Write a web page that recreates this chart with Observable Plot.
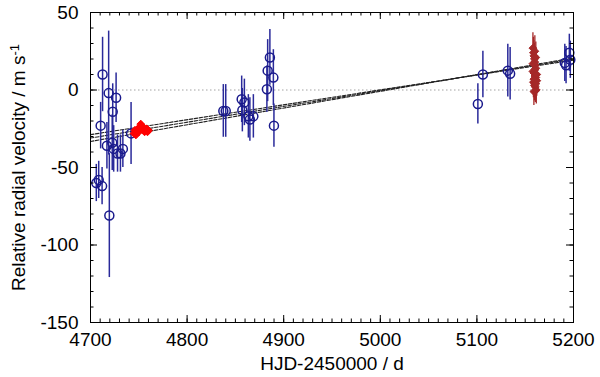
<!DOCTYPE html>
<html><head><meta charset="utf-8">
<script src="https://cdn.jsdelivr.net/npm/d3@7"></script>
<script src="https://cdn.jsdelivr.net/npm/@observablehq/plot@0.6"></script>
<style>body{margin:0;background:#fff;} svg{display:block;}</style>
</head><body><div id="chart"></div>
<script>
// Blue points (circles) : time, RV, error
const blueT = [4706, 4708.5, 4710.5, 4712, 4712.5, 4717, 4718.8, 4719.5, 4722.5, 4723, 4724, 4726.5, 4728, 4731, 4733.5, 4742,
  4837.5, 4840, 4856.5, 4857.2, 4859.3, 4863.4, 4865, 4868.6, 4882.6, 4883.4, 4885.7, 4889.3, 4889.9,
  5101, 5106.2, 5132, 5134.4, 5191, 5192.3, 5195.7, 5196.7];
const blueV = [-60, -58, -23, -62, 10, -36, -2, -81, -34, -14, -38, -5, -41, -41, -38, -28,
  -13.5, -13.5, -6, -13, -8, -17, -19, -17, 0.5, 12.5, 21, 8, -23,
  -9, 10, 12.5, 10.5, 17.5, 16, 24, 19.5];
const blueE = [12, 12, 15, 12, 24, 15, 40, 40, 18, 18, 15, 16, 12, 12, 12, 20,
  17, 17, 15, 14, 15, 14, 14, 14, 15, 20, 18, 18, 14,
  13, 15, 17, 17, 12, 12, 12, 12];
// Bright red points (diamonds)
const redT = [4745, 4746, 4747, 4748, 4749, 4750, 4751, 4752, 4753, 4754, 4755, 4756, 4757, 4758, 4759, 4760];
const redV = [-28, -26, -29, -27, -25, -27, -24, -22, -23, -25, -26, -27, -26, -25, -27, -26];
const redE = [2, 2, 2, 2, 2, 2, 2, 2, 2, 2, 2, 2, 2, 2, 2, 2];
// Dark red points (diamonds)
const brownT = [5158, 5158.5, 5159, 5159.5, 5160, 5160.5, 5161, 5158, 5159, 5160, 5161, 5162, 5158.5, 5159.5, 5160.5, 5161.5, 5159, 5160, 5161, 5158, 5160, 5162, 5159, 5161];
const brownV = [27, 24, 22, 20, 18, 16, 14, 12, 11, 9, 8, 6, 5, 3, 2, 0, -1, 25, 21, 17, 13, 10, 7, 4];
const brownE = [10, 10, 10, 10, 10, 10, 10, 10, 10, 10, 10, 10, 10, 10, 10, 9, 9, 10, 10, 10, 10, 10, 10, 10];
// Linear trend fits
const fitT = [4700, 5200];
const fitMid = [-31, 20];
const fitUp = [-28.8, 19.3];
const fitLow = [-33.2, 20.7];
// Ticks
const xTicks = [4700, 4800, 4900, 5000, 5100, 5200];
const yTicks = [50, 0, -50, -100, -150];
const xMinor = d3.range(4700, 5201, 10);
const yMinor = d3.range(-150, 51, 10);

const W = 600, H = 377, mL = 90, mR = 27, mT = 12, mB = 55;
const iw = W - mL - mR, ih = H - mT - mB;
const FS = 19;

const pts = (T, V, E) => T.map((t, i) => ({t, v: V[i], e: E[i]}));
const blue = pts(blueT, blueV, blueE);
const red = pts(redT, redV, redE);
const brown = pts(brownT, brownV, brownE);
const fitLine = (Y) => fitT.map((t, i) => ({t, v: Y[i]}));

const svg = Plot.plot({
  width: W, height: H,
  marginLeft: mL, marginRight: mR, marginTop: mT, marginBottom: mB,
  style: {fontFamily: "Liberation Sans, Arial, sans-serif", fontSize: FS + "px", background: "#fff", color: "#000"},
  x: {domain: [4700, 5200]},
  y: {domain: [-150, 50]},
  marks: [
    Plot.ruleY([0], {stroke: "#999", strokeWidth: 0.9, strokeDasharray: "1.5,2.5"}),
    Plot.line(fitLine(fitUp), {x: "t", y: "v", stroke: "#222", strokeWidth: 1.1, strokeDasharray: "3.5,1.5"}),
    Plot.line(fitLine(fitMid), {x: "t", y: "v", stroke: "#222", strokeWidth: 1.1, strokeDasharray: "3.5,1.5"}),
    Plot.line(fitLine(fitLow), {x: "t", y: "v", stroke: "#222", strokeWidth: 1.1, strokeDasharray: "3.5,1.5"}),
    Plot.ruleX(blue, {x: "t", y1: d => d.v - d.e, y2: d => d.v + d.e, stroke: "#2a2a9a", strokeWidth: 1.5}),
    Plot.dot(blue, {x: "t", y: "v", r: 4.5, stroke: "#1a1a8c", strokeWidth: 1.5, fill: "none"}),
    Plot.ruleX(red, {x: "t", y1: d => d.v - d.e, y2: d => d.v + d.e, stroke: "#ff0000", strokeWidth: 1.2}),
    Plot.dot(red, {x: "t", y: "v", r: 3.5, symbol: "diamond2", fill: "#ff0000", stroke: "#ff0000", strokeWidth: 1}),
    Plot.ruleX(brown, {x: "t", y1: d => d.v - d.e, y2: d => d.v + d.e, stroke: "#a52828", strokeWidth: 1.3}),
    Plot.dot(brown, {x: "t", y: "v", r: 3.5, symbol: "diamond2", fill: "#a52828", stroke: "#a52828", strokeWidth: 1}),
    // inward tick marks on all four sides
    Plot.tickX(xTicks, {x: d => d, insetTop: ih - 7, stroke: "#000"}),
    Plot.tickX(xTicks, {x: d => d, insetBottom: ih - 7, stroke: "#000"}),
    Plot.tickX(xMinor, {x: d => d, insetTop: ih - 3.5, stroke: "#000"}),
    Plot.tickX(xMinor, {x: d => d, insetBottom: ih - 3.5, stroke: "#000"}),
    Plot.tickY(yTicks, {y: d => d, insetRight: iw - 7, stroke: "#000"}),
    Plot.tickY(yTicks, {y: d => d, insetLeft: iw - 7, stroke: "#000"}),
    Plot.tickY(yMinor, {y: d => d, insetRight: iw - 3.5, stroke: "#000"}),
    Plot.tickY(yMinor, {y: d => d, insetLeft: iw - 3.5, stroke: "#000"}),
    Plot.frame({stroke: "#000", strokeWidth: 1}),
    Plot.axisX(xTicks, {tickSize: 0, tickPadding: 10, fontSize: FS, label: null, tickFormat: d => String(d)}),
    Plot.axisY(yTicks, {tickSize: 0, tickPadding: 12, fontSize: FS, label: null, tickFormat: d => String(d)}),
    Plot.text(["HJD-2450000 / d"], {frameAnchor: "bottom", dy: 47, fontSize: FS, text: d => d}),
    Plot.text(["Relative radial velocity / m s"], {frameAnchor: "left", textAnchor: "middle", dx: -72, rotate: -90, fontSize: FS, text: d => d})
  ]
});

// add superscript -1 to the y label
d3.select(svg).selectAll("text").filter(function() { return this.textContent === "Relative radial velocity / m s"; })
  .each(function() {
    d3.select(this).append("tspan").attr("dy", "-0.45em").attr("font-size", "13px").text("-1");
  });

document.getElementById("chart").appendChild(svg);
</script>
</body></html>
